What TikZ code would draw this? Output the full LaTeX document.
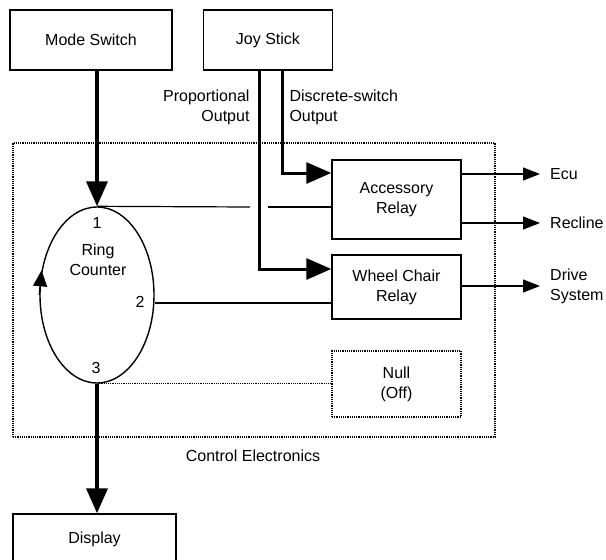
\documentclass[tikz,border=0pt]{standalone}
\usepackage{fontspec}
\setmainfont{Liberation Sans}
\usetikzlibrary{arrows.meta,shapes.geometric}
\begin{document}
\begin{tikzpicture}[x=1pt,y=-1pt,
  font=\fontsize{16}{20}\selectfont,
  box/.style={draw,line width=1.4pt,align=center,inner sep=0pt},
  dotbox/.style={draw,densely dotted,line width=1.2pt,align=center,inner sep=0pt},
  heavy/.style={line width=3.6pt},
  medium/.style={line width=3pt},
  fine/.style={line width=1.2pt},
  bigtip/.style={-{Triangle[length=25pt,width=21pt]}},
  smalltip/.style={-{Triangle[length=17pt,width=13pt]}},
  ringtip/.style={line width=1.4pt,-{Triangle[length=16pt,width=14pt]}},
  outlabel/.style={anchor=west,inner xsep=10pt,inner ysep=0pt,align=left}]
\useasboundingbox (0,0) rectangle (606,560);

% boxes
\node[box,minimum width=162,minimum height=60] (ms) at (91,40) {Mode Switch};
\node[box,minimum width=129,minimum height=60] (js) at (268,40) {Joy Stick};
\node[dotbox,minimum width=482,minimum height=294] (ce) at (254,290) {};
\node[draw,ellipse,line width=1.4pt,minimum width=114,minimum height=176,inner sep=0pt] (ring) at (97,295) {};
\node[align=center] (rclabel) at (98,260) {Ring\\Counter};
\node (n1) at (97,223) {1};
\node (n2) at (140,302) {2};
\node (n3) at (96,368) {3};
\node[box,minimum width=129,minimum height=79] (acc) at (396.5,199.5) {Accessory\\Relay};
\node[box,minimum width=129,minimum height=64] (wcr) at (396.5,287) {Wheel Chair\\Relay};
\node[dotbox,minimum width=129,minimum height=66] (null) at (396.5,384) {Null\\(Off)};
\node[box,minimum width=163,minimum height=50] (disp) at (94.5,539) {Display};

% labels
\node[anchor=east,align=right] (prop) at (253,107) {Proportional\\Output};
\node[anchor=west,align=left] (disc) at (286,107) {Discrete-switch\\Output};
\node[outlabel] (ecu) at (540,174) {Ecu};
\node[outlabel] (rec) at (540,223) {Recline};
\node[outlabel] (drv) at (540,286) {Drive\\System};
\node (celabel) at (253,456) {Control Electronics};

% heavy connectors
\draw[heavy,bigtip] (ms.south -| ring.north) -- (ring.north);
\draw[heavy,bigtip] (ring.south) -- (disp.north -| ring.south);
\draw[medium,bigtip] ([xshift=-8.5pt]js.south) |- ([yshift=18pt]wcr.west);
\draw[medium,bigtip] ([xshift=14.5pt]js.south) |- ([yshift=26.5pt]acc.west);

% ring counter outputs
\coordinate (g1) at (250,207);
\coordinate (g2) at (268,207);
\draw[fine] (ring.north) -- (g1);
\draw[fine] (g2) -- (acc.west |- g2);
\coordinate (w2) at ([yshift=-16pt]wcr.west);
\draw[fine] (ring.east |- w2) -- (w2);
\draw[fine,densely dotted] (ring.south) -- (null.west |- ring.south);

% ring direction arrow
\draw[ringtip] (ring.west) -- (ring.156);

% outputs
\draw[fine,smalltip] (acc.east |- ecu.west) -- (ecu.west);
\draw[fine,smalltip] (acc.east |- rec.west) -- (rec.west);
\draw[fine,smalltip] (wcr.east |- drv.west) -- (drv.west);
\end{tikzpicture}
\end{document}
